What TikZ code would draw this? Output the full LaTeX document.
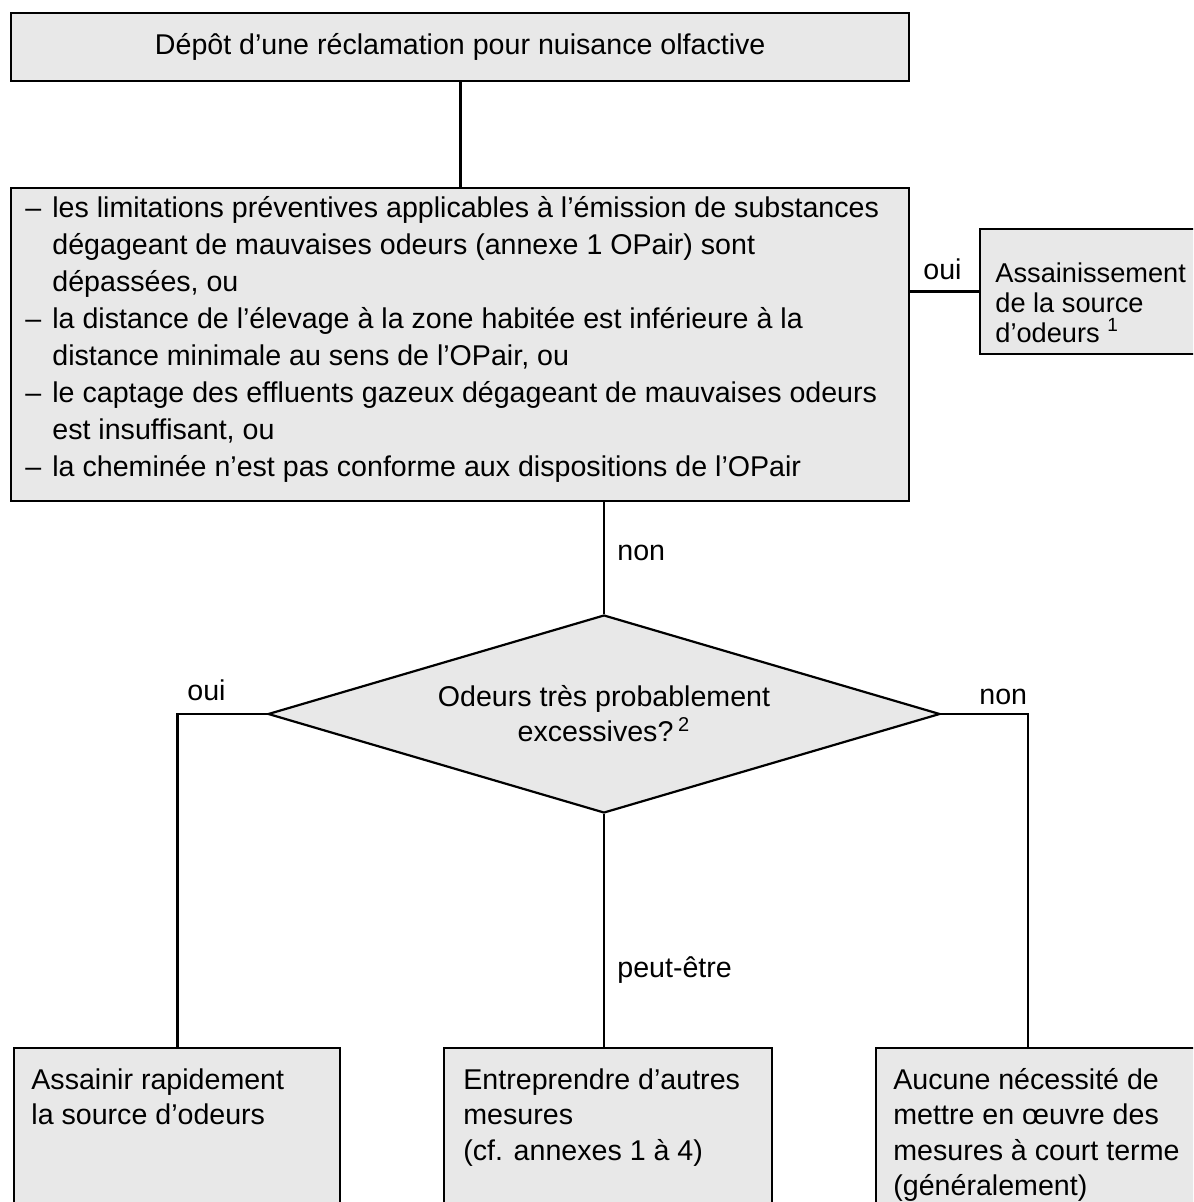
\documentclass[tikz,border=0pt]{standalone}
\usepackage{fontspec}
\setmainfont{Liberation Sans}
\usetikzlibrary{shapes.geometric}

\definecolor{fondgris}{RGB}{232,232,232}
\newcommand{\tiret}{\makebox[13.5pt][l]{–}}
\newcommand{\suite}{\hspace*{13.5pt}}

\tikzset{
  boite/.style={draw=black, fill=fondgris, line width=1.2pt, rectangle, inner sep=0pt, anchor=north west},
  losange/.style={draw=black, fill=fondgris, line width=1.1pt, diamond, aspect=3.4, inner sep=0pt,
    minimum width=336pt, minimum height=99pt, align=center,
    font=\fontsize{14.3pt}{17.5pt}\selectfont},
  texte/.style={align=left, inner sep=0pt, anchor=north west, font=\fontsize{14.3pt}{18.5pt}\selectfont},
  textebas/.style={texte, font=\fontsize{14.3pt}{17.75pt}\selectfont},
  etiq/.style={inner sep=0pt, anchor=base west, font=\fontsize{14.3pt}{17pt}\selectfont},
  trait/.style={line width=1.3pt}
}

\begin{document}
\begin{tikzpicture}[x=0.5pt, y=-0.5pt]
  \useasboundingbox (0,0) rectangle (1193,1202);
  \clip (0,0) rectangle (1193,1202);

  % boites
  \node[boite, minimum width=449pt, minimum height=34pt, font=\fontsize{14.3pt}{17pt}\selectfont] (haut) at (10,12)
    {Dépôt d’une réclamation pour nuisance olfactive};
  \node[boite, minimum width=449pt, minimum height=156.5pt] (cond) at (10,187) {};
  \node[boite, minimum width=120pt, minimum height=62.5pt] (assain) at (979,228) {};
  \node[losange] (question) at (604,714) {Odeurs très probablement\\excessives?\,\textsuperscript{2}};
  \node[boite, minimum width=163pt, minimum height=110pt] (gauche) at (13,1047) {};
  \node[boite, minimum width=164pt, minimum height=110pt] (milieu) at (443,1047) {};
  \node[boite, minimum width=170pt, minimum height=110pt] (droite) at (875,1047) {};

  % textes des boites
  \node[texte] (condtxt) at (25,196) {\tiret les limitations préventives applicables à l’émission de substances\\
    \suite dégageant de mauvaises odeurs (annexe 1 OPair) sont\\
    \suite dépassées, ou\\
    \tiret la distance de l’élevage à la zone habitée est inférieure à la\\
    \suite distance minimale au sens de l’OPair, ou\\
    \tiret le captage des effluents gazeux dégageant de mauvaises odeurs\\
    \suite est insuffisant, ou\\
    \tiret la cheminée n’est pas conforme aux dispositions de l’OPair};
  \node[texte, font=\fontsize{13.6pt}{15pt}\selectfont] (assaintxt) at (995,262)
    {Assainissement\\de la source\\d’odeurs \textsuperscript{1}};
  \node[textebas] (gauchetxt) at (31,1068) {Assainir rapidement\\la source d’odeurs};
  \node[textebas] (milieutxt) at (463,1068) {Entreprendre d’autres\\mesures\\(cf. annexes 1 à 4)};
  \node[textebas] (droitetxt) at (893,1068) {Aucune nécessité de\\mettre en œuvre des\\mesures à court terme\\(généralement)};

  % liaisons
  \coordinate (coude) at (1028,714);
  \draw[trait] (haut.south) -- (cond.north);
  \draw[trait] (cond.east |- assain.west) -- (assain.west);
  \draw[trait] (question.north |- cond.south) -- (question.north);
  \draw[trait] (question.west) -| (gauche.north);
  \draw[trait] (question.south) -- (question.south |- milieu.north);
  \draw[trait] (question.east) -- (coude) -- (coude |- droite.north);

  % etiquettes
  \node[etiq] (oui1) at (923,280) {oui};
  \node[etiq] (non1) at (617,560) {non};
  \node[etiq] (oui2) at (187,700) {oui};
  \node[etiq] (non2) at (979,704) {non};
  \node[etiq] (peut) at (617,977) {peut-être};
\end{tikzpicture}
\end{document}
